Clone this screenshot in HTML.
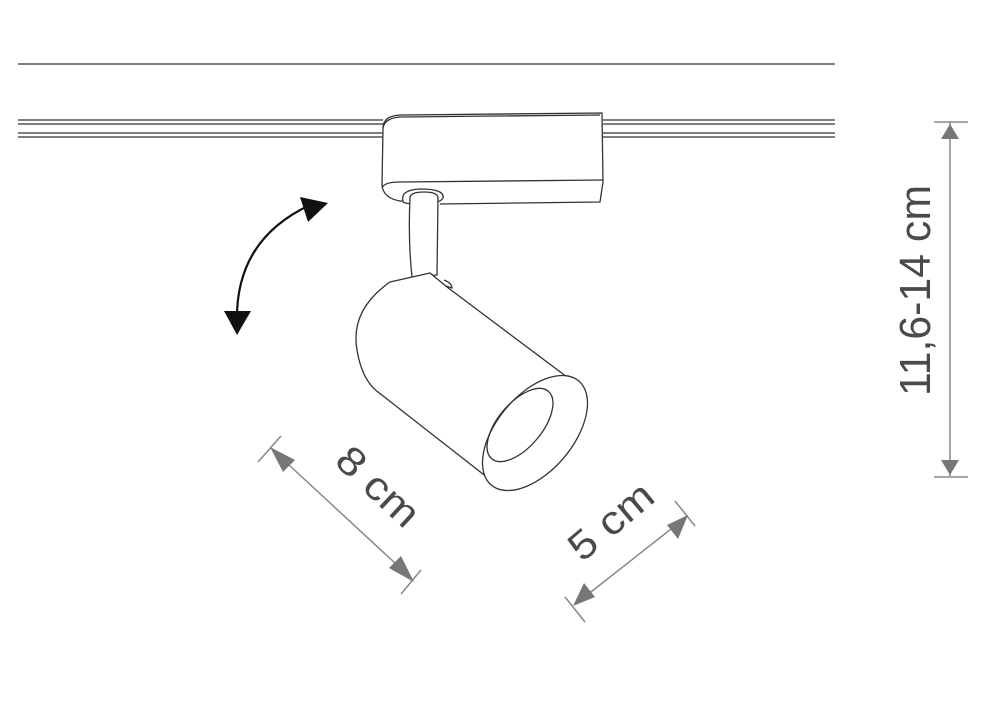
<!DOCTYPE html>
<html><head><meta charset="utf-8"><style>
html,body{margin:0;padding:0;background:#fff;width:1000px;height:719px;overflow:hidden}
svg{display:block}
text{font-family:"Liberation Sans",sans-serif;fill:#4a4a4a;font-weight:normal}
</style></head><body>
<svg width="1000" height="719" viewBox="0 0 1000 719">
<g stroke="#333" stroke-width="1.3" fill="none">
<line x1="18" y1="64" x2="835" y2="64"/>
<line x1="18" y1="120" x2="383" y2="120"/><line x1="18" y1="124" x2="383" y2="124"/>
<line x1="18" y1="133" x2="383" y2="133"/><line x1="18" y1="137" x2="383" y2="137"/>
<line x1="603" y1="120" x2="835" y2="120"/><line x1="603" y1="124" x2="835" y2="124"/>
<line x1="603" y1="133" x2="835" y2="133"/><line x1="603" y1="137" x2="835" y2="137"/>
<!-- housing -->
<path d="M383,128 Q383,116 400,115 L602,113 L603,182 L600,202 L440,204" fill="#fff"/>
<path d="M383,128 L382,185 Q383,198 400,201 L403,201"/>
<path d="M383,128 Q385,118 400,117 L600,115"/>
<path d="M382,188 Q384,182 400,182 L603,180"/>
<path d="M403,201 Q400,190 420,189 Q445,189 443,198 Q440,204 420,204 Q402,204 403,201Z" fill="#fff"/>
<!-- stem -->
<path d="M410,198 Q410,192 424,192 Q438,192 438,198 L437,275 L412,277 Q408,240 410,198Z" fill="#fff"/>
<path d="M444,280 Q452,283 452,288 L446,286"/>
<!-- cylinder body -->
<path d="M430,273 L390,282 Q350,310 357,350 Q362,380 378,392 L488,478 L575,383 L447,287 Z" fill="#fff"/>
<ellipse cx="535" cy="433" rx="38" ry="68" transform="rotate(40 535 433)" fill="#fff"/>
<ellipse cx="520" cy="425" rx="22" ry="44" transform="rotate(40 520 425)"/>
</g>
<!-- rotate arrow -->
<path d="M237,322 Q235,240 310,205" stroke="#111" stroke-width="2.2" fill="none"/>
<polygon points="224,311 251,311 237,335" fill="#111"/>
<polygon points="300,197 328,203 308,222" fill="#111"/>
<!-- dimensions -->
<g stroke="#888" stroke-width="1.5" fill="#777">
<line x1="275" y1="452" x2="410" y2="577"/>
<line x1="258" y1="462" x2="281" y2="436"/>
<line x1="401" y1="594" x2="421" y2="570"/>
<polygon points="270,447 295,460 283,472" stroke="none"/>
<polygon points="414,582 389,568 401,556" stroke="none"/>
<line x1="577" y1="603" x2="685" y2="518"/>
<line x1="565" y1="597" x2="585" y2="622"/>
<line x1="675" y1="501" x2="695" y2="526"/>
<polygon points="573,606 584,583 595,597" stroke="none"/>
<polygon points="688,515 678,539 667,525" stroke="none"/>
<line x1="950" y1="122" x2="950" y2="476"/>
<line x1="934" y1="122" x2="968" y2="122"/>
<line x1="934" y1="477" x2="968" y2="477"/>
<polygon points="950,124 941,139 959,139" stroke="none"/>
<polygon points="950,475 941,460 959,460" stroke="none"/>
</g>
<text x="0" y="0" font-size="40" transform="translate(333,463) rotate(43)" textLength="98" lengthAdjust="spacingAndGlyphs">8 cm</text>
<text x="0" y="0" font-size="40" transform="translate(582,563) rotate(-40)" textLength="98" lengthAdjust="spacingAndGlyphs">5 cm</text>
<text x="0" y="0" font-size="44" transform="translate(930,396) rotate(-90)" textLength="211" lengthAdjust="spacingAndGlyphs">11,6-14 cm</text>
</svg>
</body></html>
